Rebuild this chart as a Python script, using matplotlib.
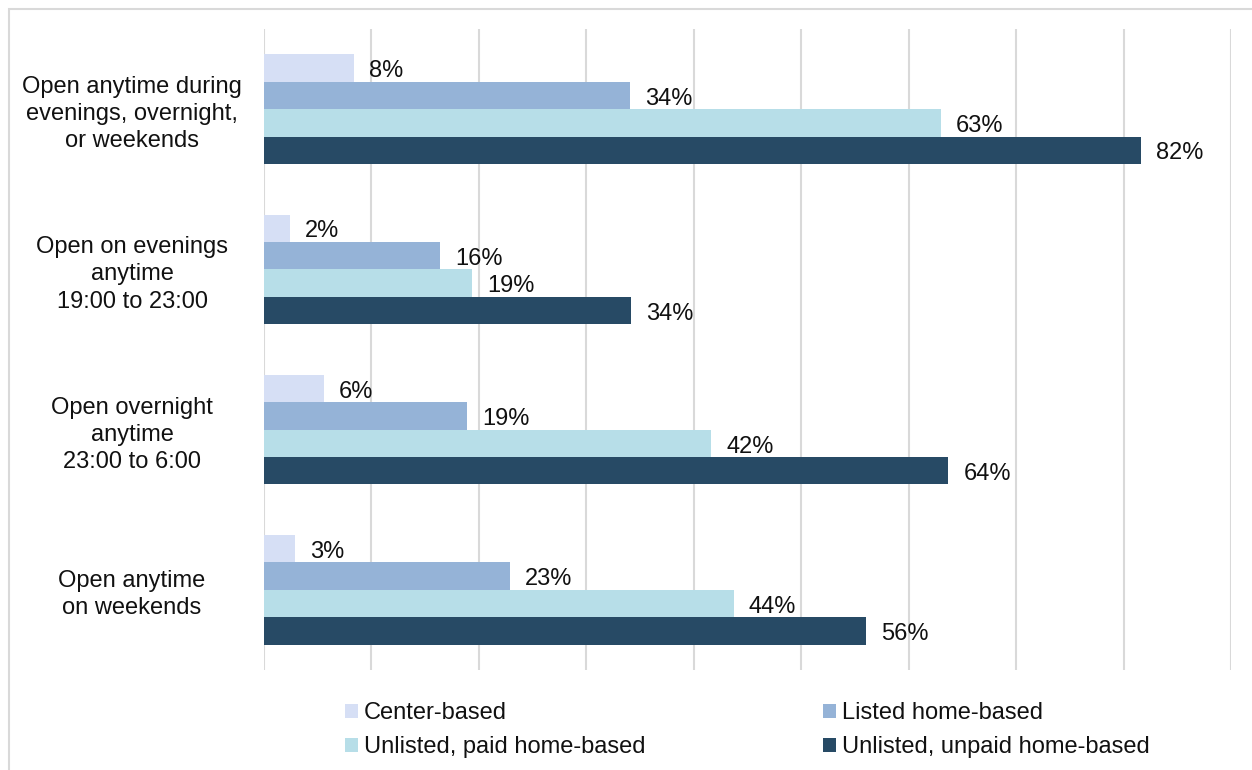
import matplotlib.pyplot as plt
import numpy as np
from matplotlib.patches import Rectangle

plt.rcParams['font.family'] = ['Liberation Sans', 'DejaVu Sans']

categories = [
    "Open anytime during\nevenings, overnight,\nor weekends",
    "Open on evenings\nanytime\n19:00 to 23:00",
    "Open overnight\nanytime\n23:00 to 6:00",
    "Open anytime\non weekends",
]
series_names = ["Center-based", "Listed home-based",
                "Unlisted, paid home-based", "Unlisted, unpaid home-based"]
center_based = [8.4, 2.4, 5.6, 2.9]
listed_home = [34.1, 16.4, 18.9, 22.9]
unlisted_paid = [63.0, 19.4, 41.6, 43.7]
unlisted_unpaid = [81.6, 34.2, 63.7, 56.0]
colors = ["#D6DFF5", "#95B3D7", "#B7DEE8", "#274A65"]

fs = 17

fig = plt.figure(figsize=(12.52, 7.70), dpi=100)
ax = fig.add_axes([264 / 1252, 1 - 670 / 770, (1231 - 264) / 1252, (670 - 29) / 770])

y = np.arange(len(categories))
h = 0.171
handles = []
for i, (name, vals) in enumerate(zip(series_names,
                                     [center_based, listed_home, unlisted_paid, unlisted_unpaid])):
    pos = y + (i - 1.5) * h
    bars = ax.barh(pos, vals, height=h, color=colors[i], label=name)
    handles.append(bars)
    for p, v in zip(pos, vals):
        ax.text(v + 1.4, p + 0.02, f"{v:.0f}%", va="center", ha="left", fontsize=fs, color="#111111")

ax.set_xlim(0, 90)
ax.set_ylim(3.5, -0.5)
ax.set_xticks(np.arange(0, 91, 10))
ax.xaxis.grid(True, color="#D9D9D9", linewidth=1.5)
ax.set_axisbelow(True)
ax.tick_params(axis="x", length=0, labelbottom=False)
ax.tick_params(axis="y", length=0, pad=95)
ax.set_yticks(y)
ax.set_yticklabels(categories, fontsize=fs, ha="center", multialignment="center",
                   color="#111111", linespacing=1.3)
for s in ax.spines.values():
    s.set_visible(False)

order = [0, 2, 1, 3]
leg = fig.legend([handles[k] for k in order], [series_names[k] for k in order],
                 ncol=2, loc="upper left", bbox_to_anchor=(324 / 1252, 1 - 681 / 770),
                 frameon=False, fontsize=fs, handlelength=0.55, handleheight=0.55,
                 handletextpad=0.25, columnspacing=7.5, labelspacing=0.5)
for t in leg.get_texts():
    t.set_color("#111111")

fig.patches.append(Rectangle((8.5 / 1252, -0.1), 1.2, 1 - 8.5 / 770 + 0.1,
                             transform=fig.transFigure, fill=False,
                             edgecolor="#D9D9D9", linewidth=1.5))

fig.savefig("out.png", dpi=100)
